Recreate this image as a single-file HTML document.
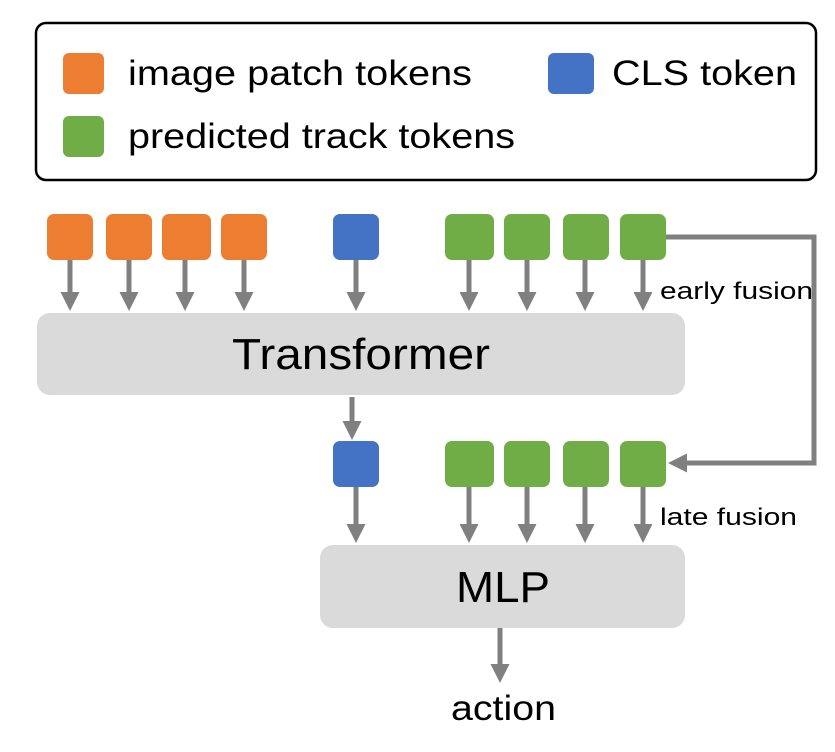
<!DOCTYPE html>
<html><head><meta charset="utf-8"><style>body{margin:0;background:#fff}</style></head><body>
<svg width="835" height="747" viewBox="0 0 835 747" xmlns="http://www.w3.org/2000/svg" font-family="Liberation Sans, sans-serif">
<defs><marker id="a" markerWidth="4" markerHeight="4" refX="2.2" refY="2" orient="auto" markerUnits="strokeWidth"><path d="M0,0.1 L3.8,2 L0,3.9Z" fill="#808080"/></marker></defs>
<rect x="36" y="23" width="780" height="157" rx="10" fill="#fff" stroke="#000" stroke-width="2.5"/>
<rect x="63" y="53" width="41" height="41" rx="6" fill="#ED7D31"/>
<rect x="63" y="116" width="41" height="41" rx="6" fill="#70AD47"/>
<rect x="548" y="53" width="46" height="41" rx="6" fill="#4472C4"/>
<text x="128" y="85" font-size="35" textLength="344" lengthAdjust="spacingAndGlyphs">image patch tokens</text>
<text x="612" y="85" font-size="35" textLength="185" lengthAdjust="spacingAndGlyphs">CLS token</text>
<text x="128" y="148" font-size="35" textLength="387" lengthAdjust="spacingAndGlyphs">predicted track tokens</text>
<g fill="#ED7D31"><rect x="47" y="214" width="46" height="46" rx="7"/><rect x="106" y="214" width="46" height="46" rx="7"/><rect x="162" y="214" width="49" height="46" rx="7"/><rect x="221" y="214" width="46" height="46" rx="7"/></g>
<g fill="#4472C4"><rect x="333" y="214" width="46" height="46" rx="7"/><rect x="333" y="441" width="46" height="46" rx="7"/></g>
<g fill="#70AD47"><rect x="445" y="214" width="49" height="46" rx="7"/><rect x="504" y="214" width="46" height="46" rx="7"/><rect x="563" y="214" width="46" height="46" rx="7"/><rect x="620" y="214" width="46" height="46" rx="7"/>
<rect x="445" y="441" width="49" height="46" rx="7"/><rect x="504" y="441" width="46" height="46" rx="7"/><rect x="563" y="441" width="46" height="46" rx="7"/><rect x="620" y="441" width="46" height="46" rx="7"/></g>
<rect x="37" y="313" width="648" height="82" rx="13" fill="#DADADA"/>
<rect x="320" y="545" width="365" height="83" rx="13" fill="#DADADA"/>
<text x="232" y="369" font-size="44" textLength="258" lengthAdjust="spacingAndGlyphs">Transformer</text>
<text x="456" y="602" font-size="44" textLength="94" lengthAdjust="spacingAndGlyphs">MLP</text>
<text x="451" y="720" font-size="35" textLength="105" lengthAdjust="spacingAndGlyphs">action</text>
<text x="660" y="299" font-size="24" textLength="153" lengthAdjust="spacingAndGlyphs">early fusion</text>
<text x="660" y="525" font-size="24" textLength="137" lengthAdjust="spacingAndGlyphs">late fusion</text>
<g stroke="#808080" stroke-width="5" fill="none" marker-end="url(#a)">
<line x1="70" y1="260" x2="70" y2="303"/><line x1="129" y1="260" x2="129" y2="303"/><line x1="185" y1="260" x2="185" y2="303"/><line x1="244" y1="260" x2="244" y2="303"/><line x1="356" y1="260" x2="356" y2="303"/>
<line x1="469" y1="260" x2="469" y2="303"/><line x1="527" y1="260" x2="527" y2="303"/><line x1="585" y1="260" x2="585" y2="303"/><line x1="643" y1="260" x2="643" y2="303"/>
<line x1="352" y1="397" x2="352" y2="432"/>
<line x1="356" y1="487" x2="356" y2="535"/>
<line x1="469" y1="487" x2="469" y2="535"/><line x1="527" y1="487" x2="527" y2="535"/><line x1="585" y1="487" x2="585" y2="535"/><line x1="643" y1="487" x2="643" y2="535"/>
<line x1="500" y1="628" x2="500" y2="675"/>
<polyline points="666,237 814,237 814,463 676,463"/>
</g>
</svg>
</body></html>
